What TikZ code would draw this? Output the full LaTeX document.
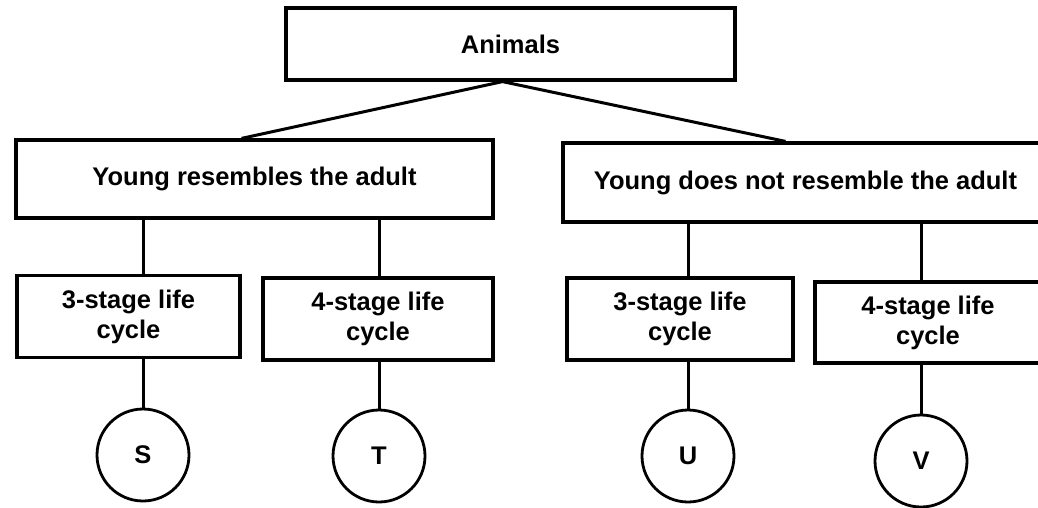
\documentclass[tikz,border=0pt]{standalone}
\usepackage{fontspec}
\setmainfont{Liberation Sans}

\tikzset{
  box/.style={draw, line width=3.2pt, align=center, inner sep=0pt,
    font=\bfseries\fontsize{25.5}{30}\selectfont},
  stage/.style={box, minimum width=226pt, minimum height=82pt},
  letter/.style={draw, circle, line width=2.8pt, minimum size=92pt, inner sep=0pt,
    font=\bfseries\fontsize{25.5}{30}\selectfont},
  link/.style={line width=3pt}
}

\begin{document}
\begin{tikzpicture}[x=1pt,y=-1pt]
    \clip (0,0) rectangle (1038,507);
    % Draw boxes
    \node (animals) [box, minimum width=449pt, minimum height=72pt] at (510.5,44) {Animals};
    \node (resem) [box, minimum width=477pt, minimum height=78pt] at (254.5,179) {Young resembles the adult};
    \node (notresem) [box, minimum width=485pt, minimum height=79pt] at (805.5,182.5) {Young does not resemble the adult};

    \node (s3l) [stage, minimum width=223pt] at (128.5,316.5) {3-stage life\\cycle};
    \node (s4l) [stage, minimum width=230pt] at (378,319) {4-stage life\\cycle};
    \node (s3r) [stage] at (680,319) {3-stage life\\cycle};
    \node (s4r) [stage, minimum height=81pt] at (928,322.5) {4-stage life\\cycle};

    % Draw circles
    \node (S) [letter] at (143,455) {S};
    \node (T) [letter] at (379,456) {T};
    \node (U) [letter] at (688,456) {U};
    \node (V) [letter] at (921,461) {V};

    % Draw connectors
    \draw [link] ([xshift=-13pt]resem.north) -- ([xshift=-8pt]animals.south)
        -- ([xshift=-20pt]notresem.north);
    \draw [link] (S |- resem.south) -- (S |- s3l.north);
    \draw [link] (T |- resem.south) -- (T |- s4l.north);
    \draw [link] (U |- notresem.south) -- (U |- s3r.north);
    \draw [link] (V |- notresem.south) -- (V |- s4r.north);
    \draw [link] (s3l.south -| S) -- (S);
    \draw [link] (s4l.south -| T) -- (T);
    \draw [link] (s3r.south -| U) -- (U);
    \draw [link] (s4r.south -| V) -- (V);
\end{tikzpicture}
\end{document}
